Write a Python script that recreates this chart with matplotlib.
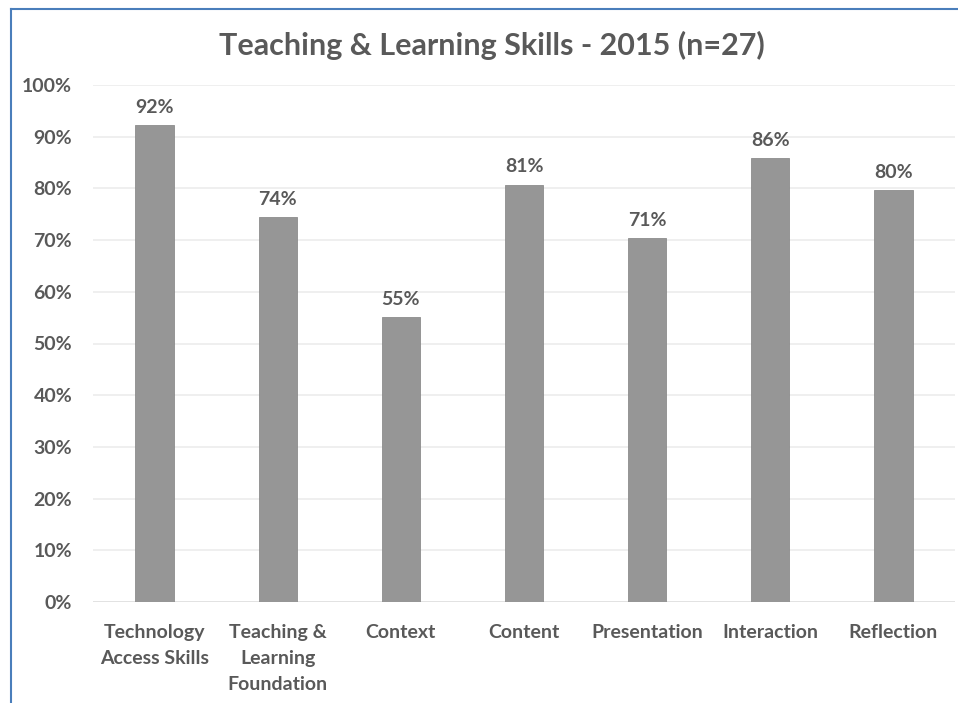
import matplotlib
matplotlib.use("Agg")
import matplotlib.pyplot as plt
from matplotlib.lines import Line2D

categories = ["Technology\nAccess Skills", "Teaching &\nLearning\nFoundation", "Context",
              "Content", "Presentation", "Interaction", "Reflection"]
values = [0.922, 0.745, 0.551, 0.807, 0.704, 0.859, 0.797]
labels = ["92%", "74%", "55%", "81%", "71%", "86%", "80%"]
yticks = [0, 0.1, 0.2, 0.3, 0.4, 0.5, 0.6, 0.7, 0.8, 0.9, 1.0]
title = "Teaching & Learning Skills - 2015 (n=27)"

plt.rcParams['font.family'] = ['Lato', 'DejaVu Sans']
txt = "#595959"

fig = plt.figure(figsize=(9.58, 7.03), dpi=100)
W, H = 958, 703
ax = fig.add_axes([93 / W, 1 - 602 / H, (955 - 93) / W, (602 - 85) / H])

x = range(len(categories))
ax.bar(x, values, width=0.31, color="#969696", edgecolor="#8c8c8c", linewidth=0.6, zorder=3)
for xi, v, l in zip(x, values, labels):
    ax.text(xi, v + 0.018, l, ha="center", va="bottom", fontsize=14, fontweight="bold", color=txt)

ax.set_ylim(0, 1.0)
ax.set_xlim(-0.5, len(categories) - 0.5)
ax.set_yticks(yticks)
ax.set_yticklabels([f"{int(round(t*100))}%" for t in yticks])
ax.set_xticks(list(x))
ax.set_xticklabels(categories, linespacing=1.62, va="top")
ax.tick_params(axis="both", length=0, labelsize=14, labelcolor=txt)
for lab in ax.get_xticklabels() + ax.get_yticklabels():
    lab.set_fontweight("bold")
ax.tick_params(axis="y", pad=15)
ax.tick_params(axis="x", pad=16)
ax.grid(axis="y", color="#ececec", linewidth=1.2, zorder=0)
for s in ax.spines.values():
    s.set_visible(False)
ax.axhline(0, color="#e0e0e0", linewidth=1.2, zorder=2)

fig.text(492 / W, 1 - 45 / H, title, ha="center", va="center",
         fontsize=22, fontweight="bold", color=txt)

# border lines (blue frame at left and top)
fig.add_artist(Line2D([11 / W, 11 / W], [0, 1 - 9 / H], color="#4a7ebb", linewidth=1.5))
fig.add_artist(Line2D([11 / W, 1], [1 - 9 / H, 1 - 9 / H], color="#4a7ebb", linewidth=1.5))

fig.savefig("out.png", dpi=100)
